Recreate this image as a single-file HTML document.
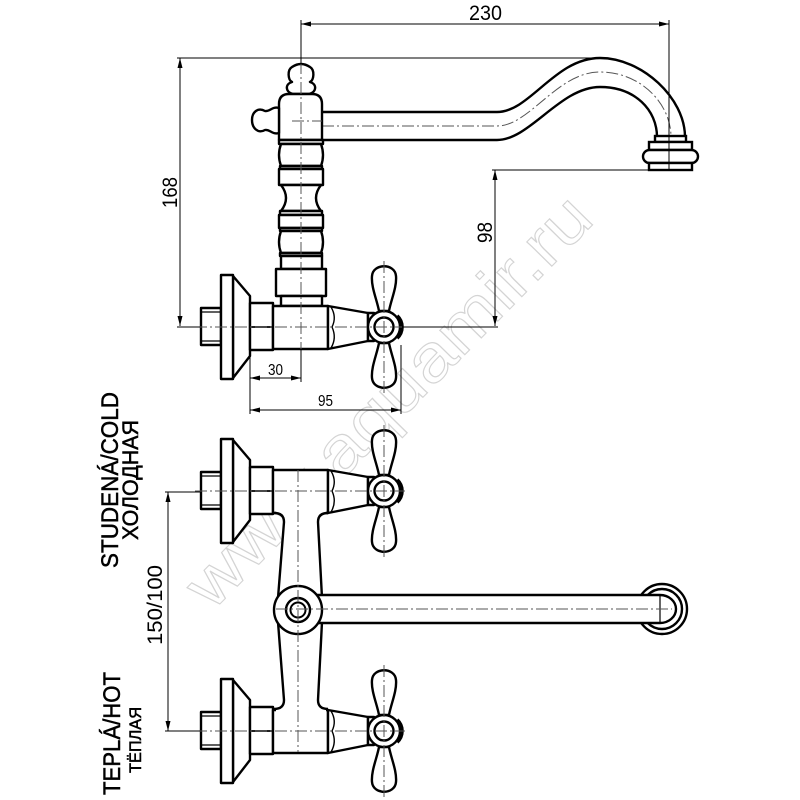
<!DOCTYPE html>
<html><head><meta charset="utf-8">
<style>html,body{margin:0;padding:0;background:#fff;}svg{display:block}</style>
</head><body>
<svg width="800" height="800" viewBox="0 0 800 800" xmlns="http://www.w3.org/2000/svg" font-family="'Liberation Sans', 'DejaVu Sans', sans-serif">
<rect width="800" height="800" fill="#fff"/>

<!-- watermark -->
<text transform="translate(212,612) rotate(-45.5)" font-size="66" textLength="548" lengthAdjust="spacingAndGlyphs" fill="none" stroke="#d4d4d4" stroke-width="1.1">www.aquamir.ru</text>

<defs>
<g id="valve" stroke="#000" stroke-width="2.4" fill="#fff" stroke-linejoin="round">
 <rect x="201" y="-19" width="20" height="37"/>
 <path d="M201,-15H221M201,14H221" stroke-width="1.2" fill="none"/>
 <path d="M233,-51L250,-31L250,29L233,51Z"/>
 <rect x="221" y="-52" width="12" height="104"/>
 <rect x="250" y="-24" width="23" height="47"/>
 <path d="M250,0H273" stroke-width="1.8"/>
 <rect x="273" y="-21" width="55" height="43"/>
 <path d="M328,-21L368,-14L368,14L328,22Z"/>
 <path d="M331,-20Q337,-10 332,0Q337,11 331,21" fill="none" stroke-width="1.4"/>
 <rect x="368" y="-14" width="6" height="28"/>
 <path d="M379,-16C377,-27 371,-40 372,-51C373,-64 395,-64 396,-51C397,-40 391,-27 389,-16Z"/>
 <path d="M379,16C377,27 371,40 372,51C373,64 395,64 396,51C397,40 391,27 389,16Z"/>
 <circle cx="384" cy="0" r="16"/>
 <circle cx="384" cy="0" r="9.5"/>
 <path d="M397,-11A15 15 0 0 1 397,11" fill="none" stroke-width="4"/>
 <path d="M195,0H405M384,-66V66" stroke="#555" stroke-width="1" stroke-dasharray="12 3 2 3" fill="none"/>
</g>
</defs>

<!-- ============ UPPER VIEW ============ -->
<!-- spout -->
<g fill="none" stroke="#000" stroke-width="2.4">
 <path d="M322,112L497,112C530,112 555,58 600,58C642,58 685,98 685,137"/>
 <path d="M322,140L497,140C530,140 560,87 600,87C635,87 657,110 657,137"/>
</g>
<path d="M322,126L497,126C530,126 557,72 600,72C641,72 671,104 671,137" fill="none" stroke="#555" stroke-width="1" stroke-dasharray="12 3 2 3"/>
<!-- nozzle -->
<g fill="#fff" stroke="#000" stroke-width="2.4">
 <rect x="655" y="136" width="31" height="6"/>
 <rect x="649" y="142" width="43" height="8"/>
 <rect x="643" y="150" width="55" height="13" rx="6.5"/>
 <rect x="649" y="163" width="43" height="7"/>
</g>

<!-- column -->
<g fill="#fff" stroke="#000" stroke-width="2.4" stroke-linejoin="round">
 <path d="M293,94C285,92 285,84 292,82C288,80 287,70 292,67Q301,61 310,67C315,70 314,80 310,82C317,84 317,92 309,94Z"/>
 <path d="M279,140L279,104Q279,94 289,94L312,94Q322,94 322,104L322,140Z"/>
 <path d="M279,108C272,106 270,112 265,111C258,107 252,112 252,120C252,128 258,134 265,130C270,129 272,135 279,133Z"/>
 <rect x="279" y="140" width="44" height="4"/>
 <path d="M281,144Q277,155 281,166L321,166Q325,155 321,144Z"/>
 <rect x="280" y="166" width="42" height="3"/>
 <rect x="279" y="169" width="44" height="16"/>
 <path d="M281,185Q291,198 281,211L321,211Q311,198 321,185Z"/>
 <rect x="280" y="211" width="42" height="4"/>
 <rect x="279" y="215" width="44" height="13"/>
 <rect x="280" y="228" width="42" height="3"/>
 <path d="M281,231Q277,242 281,253L321,253Q325,242 321,231Z"/>
 <rect x="280" y="253" width="42" height="3"/>
 <rect x="281" y="256" width="41" height="13"/>
 <rect x="276" y="269" width="50" height="27"/>
 <rect x="281" y="296" width="41" height="10"/>
</g>
<use href="#valve" transform="translate(0,327)"/>
<path d="M301,62V349M292,121H322" stroke="#555" stroke-width="1" stroke-dasharray="12 3 2 3" fill="none"/>

<!-- upper dimensions -->
<g stroke="#000" stroke-width="1" fill="none">
 <path d="M301,20V64"/>
 <path d="M669,20V170"/>
 <path d="M301,24H669"/>
 <path d="M177,58H592"/>
 <path d="M180,58V326"/>
 <path d="M177,327H200"/>
 <path d="M402,327H498"/>
 <path d="M492,170H649"/>
 <path d="M495,170V326"/>
 <path d="M250,351V414"/>
 <path d="M401,345V414"/>
 <path d="M301,349V382"/>
 <path d="M250,378H301"/>
 <path d="M250,410H401"/>
</g>
<g fill="#000">
 <path d="M301,24L311,21.5L311,26.5Z"/>
 <path d="M669,24L659,21.5L659,26.5Z"/>
 <path d="M180,58L177.5,68L182.5,68Z"/>
 <path d="M180,326L177.5,316L182.5,316Z"/>
 <path d="M495,170L492.5,180L497.5,180Z"/>
 <path d="M495,326L492.5,316L497.5,316Z"/>
 <path d="M250,378L260,375.5L260,380.5Z"/>
 <path d="M301,378L291,375.5L291,380.5Z"/>
 <path d="M250,410L260,407.5L260,412.5Z"/>
 <path d="M401,410L391,407.5L391,412.5Z"/>
</g>
<g fill="#000" font-size="21">
 <text x="469" y="20" textLength="33" lengthAdjust="spacingAndGlyphs">230</text>
 <text transform="translate(177,208) rotate(-90)" textLength="31" lengthAdjust="spacingAndGlyphs">168</text>
 <text transform="translate(492,243) rotate(-90)" textLength="21" lengthAdjust="spacingAndGlyphs">98</text>
 <text x="268" y="375" font-size="16" textLength="15" lengthAdjust="spacingAndGlyphs">30</text>
 <text x="318" y="406" font-size="16" textLength="15" lengthAdjust="spacingAndGlyphs">95</text>
</g>

<!-- ============ LOWER VIEW ============ -->
<use href="#valve" transform="translate(0,491)"/>
<use href="#valve" transform="translate(0,731)"/>
<!-- riser -->
<path d="M276,510L326,510L326,513Q318,513 318,522L322,598L322,622L318,700Q318,709 326,709L326,712L276,712L276,709Q284,709 284,700L278,622L278,598L284,522Q284,513 276,513Z" fill="#fff"/>
<g fill="none" stroke="#000" stroke-width="2.4">
 <path d="M274,513Q284,513 284,522L278,598"/>
 <path d="M328,513Q318,513 318,522L322,598"/>
 <path d="M278,622L284,700Q284,709 274,709"/>
 <path d="M322,622L318,700Q318,709 328,709"/>
</g>
<!-- end cap rings -->
<circle cx="662" cy="609" r="25" fill="none" stroke="#000" stroke-width="2.4"/>
<circle cx="662" cy="609" r="20" fill="none" stroke="#000" stroke-width="2.4"/>
<rect x="317" y="595" width="343" height="28" fill="#fff"/>
<g fill="none" stroke="#000" stroke-width="2.4">
 <path d="M317,595H660M317,623H660"/>
 <path d="M660,595A16 14 0 0 1 660,623"/>
</g>
<path d="M660,595V623" stroke="#000" stroke-width="1.2"/>
<!-- hub -->
<circle cx="298" cy="610" r="24" fill="#fff" stroke="#000" stroke-width="2.4"/>
<circle cx="298" cy="610" r="12" fill="#fff" stroke="#000" stroke-width="2.4"/>
<circle cx="298" cy="610" r="7.5" fill="#fff" stroke="#000" stroke-width="2"/>
<path d="M298,470V752M276,609H672" stroke="#555" stroke-width="1" stroke-dasharray="12 3 2 3" fill="none"/>

<!-- lower dimension -->
<g stroke="#000" stroke-width="1" fill="none">
 <path d="M165,492H200M165,731H200M168,492V731"/>
</g>
<g fill="#000">
 <path d="M168,492L165.5,502L170.5,502Z"/>
 <path d="M168,731L165.5,721L170.5,721Z"/>
</g>
<g fill="#000" font-size="21">
 <text transform="translate(162,645) rotate(-90)" textLength="80" lengthAdjust="spacingAndGlyphs">150/100</text>
</g>

<!-- labels -->
<g fill="#000" stroke="#000" stroke-width="0.5">
 <text transform="translate(118,568) rotate(-90)" font-size="24" textLength="176" lengthAdjust="spacingAndGlyphs">STUDENÁ/COLD</text>
 <text transform="translate(138,540) rotate(-90)" font-size="22" textLength="120" lengthAdjust="spacingAndGlyphs">ХОЛОДНАЯ</text>
 <text transform="translate(120,795) rotate(-90)" font-size="24" textLength="123" lengthAdjust="spacingAndGlyphs">TEPLÁ/HOT</text>
 <text transform="translate(141,773) rotate(-90)" font-size="17" textLength="66" lengthAdjust="spacingAndGlyphs">ТЁПЛАЯ</text>
</g>
</svg>
</body></html>
